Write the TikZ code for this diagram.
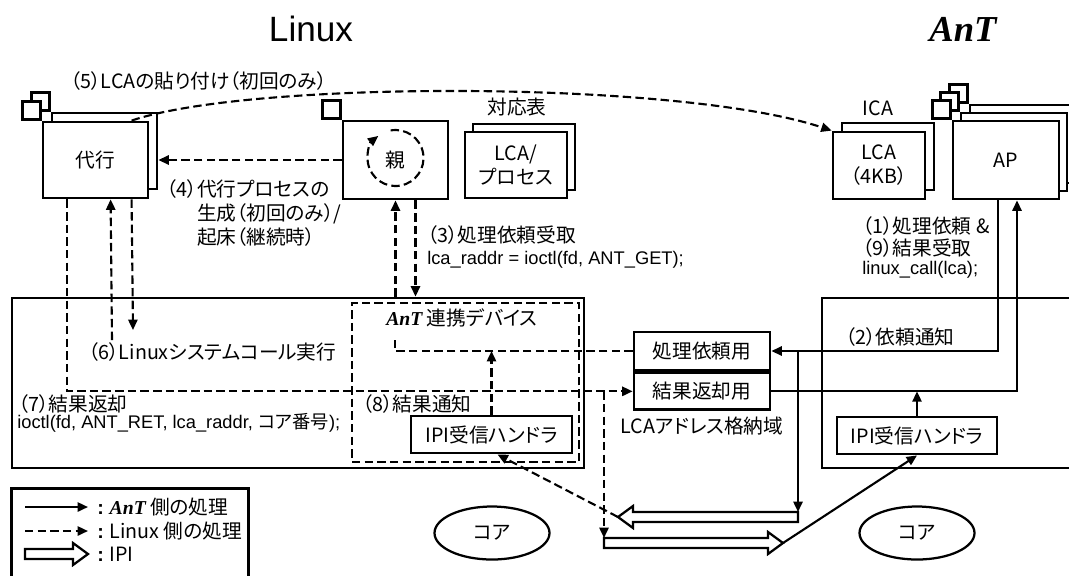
\documentclass[tikz,border=0pt]{standalone}
\usepackage{fontspec}
\setmainfont{Noto Sans CJK JP}[RawFeature=+palt]
\newfontfamily\latfont{Liberation Sans}
\newfontfamily\antfont{Liberation Serif}
\usetikzlibrary{arrows.meta,positioning,calc,shapes.geometric}
\newlength\pxu
\setlength\pxu{0.025cm}
\newcommand\AnT{{\antfont\bfseries\itshape AnT}}
\tikzset{
  box/.style={draw, line width=2pt, fill=white, align=center, inner sep=0pt},
  tab/.style={draw, line width=2pt, fill=white, minimum size=18\pxu, inner sep=0pt},
  area/.style={draw, line width=2pt, inner sep=0pt},
  devarea/.style={area, dash pattern=on 6pt off 3pt},
  core/.style={draw, ellipse, line width=1.6pt, minimum width=115\pxu, minimum height=53\pxu, inner sep=0pt},
  ant/.style={line width=1.5pt, -{Triangle[length=2.6mm,width=2.3mm]}},
  lnx/.style={ant, dash pattern=on 6pt off 3pt},
  lnxline/.style={line width=1.5pt, dash pattern=on 6pt off 3pt},
  ipi/.style={draw, line width=1.6pt, fill=white, line join=miter},
  lbl/.style={inner sep=0pt, anchor=west},
  code/.style={lbl, font=\latfont\fontsize{13}{15}\selectfont},
}
\begin{document}
\begin{tikzpicture}[x=0.025cm, y=-0.025cm, font=\fontsize{14}{17}\selectfont]
  \useasboundingbox (0,0) rectangle (1069,575);
  % titles
  \node[font=\latfont\fontsize{25}{30}\selectfont] (tLinux) at (311,29) {Linux};
  \node[font=\fontsize{26}{30}\selectfont] (tAnT) at (963,29) {\AnT};

  % kernel areas
  \node[area, minimum width=572\pxu, minimum height=170\pxu] (lk) at (298,383) {};
  \node[area, minimum width=258\pxu, minimum height=170\pxu] (ak) at (951,383) {};
  \node[devarea, minimum width=227\pxu, minimum height=159\pxu] (dev) at (465.5,382.5) {};
  \node[lbl] (devLbl) at (386,318) {\AnT\ 連携デバイス};

  % Linux processes
  \node[box, minimum width=105\pxu, minimum height=76\pxu] (dk2) at (104.5,151) {};
  \node[tab, anchor=south east] (dk2tab) at (dk2.north west) {};
  \node[box, minimum width=105\pxu, minimum height=76\pxu] (dk) at (95.5,160) {代行};
  \node[tab, anchor=south east] (dktab) at (dk.north west) {};
  \node[box, minimum width=105\pxu, minimum height=78\pxu] (oya) at (395.5,160) {親};
  \node[tab, anchor=south east] (oyatab) at (oya.north west) {};
  \node (tblLbl) at (517,107) {対応表};
  \node[box, minimum width=102\pxu, minimum height=66\pxu] (tbl2) at (524,157) {};
  \node[box, minimum width=102\pxu, minimum height=66\pxu] (tbl) at (516,165) {LCA/\\プロセス};

  % AnT side
  \node (icaLbl) at (878,108) {ICA};
  \node[box, minimum width=92\pxu, minimum height=67\pxu] (lca2) at (888,156.5) {};
  \node[box, minimum width=92\pxu, minimum height=67\pxu] (lca) at (879,165.5) {LCA\\（4KB）};
  \node[box, minimum width=106\pxu, minimum height=78\pxu] (ap3) at (1023,144) {};
  \node[tab, anchor=south east] (ap3tab) at (ap3.north west) {};
  \node[box, minimum width=106\pxu, minimum height=78\pxu] (ap2) at (1014,152) {};
  \node[tab, anchor=south east] (ap2tab) at (ap2.north west) {};
  \node[box, minimum width=106\pxu, minimum height=78\pxu] (ap) at (1006,160) {AP};
  \node[tab, anchor=south east] (aptab) at (ap.north west) {};

  % LCA address area, handlers, cores
  \node[box, minimum width=136\pxu, minimum height=38\pxu] (req) at (702,351) {処理依頼用};
  \node[box, minimum width=136\pxu, minimum height=37\pxu, below=0pt of req] (res) {結果返却用};
  \node (addrLbl) at (702,426) {LCAアドレス格納域};
  \node[box, minimum width=161\pxu, minimum height=37\pxu] (hL) at (491.5,434.5) {IPI受信ハンドラ};
  \node[box, minimum width=160\pxu, minimum height=37\pxu] (hR) at (917,435.5) {IPI受信ハンドラ};
  \node[core] (cL) at (492,533) {コア};
  \node[core] (cR) at (917,533) {コア};

  % IPI
  \coordinate (ipiAtip) at (618,517);
  \coordinate (ipiAtail) at (798,517);
  \coordinate (ipiBtail) at (604,543);
  \coordinate (ipiBtip) at (783,543);
  \draw[ipi] (ipiAtail) ++(0,-5) -- ++(-165,0) -- ++(0,-6) -- (ipiAtip) -- ++(15,11) -- ++(0,-6) -- ++(165,0) -- cycle;
  \draw[ipi] (ipiBtail) ++(0,-5) -- ++(164,0) -- ++(0,-6) -- (ipiBtip) -- ++(-15,11) -- ++(0,-6) -- ++(-164,0) -- cycle;

  % AnT side flow
  \coordinate (apOut) at ($(ap.south)+(-8,0)$);
  \coordinate (apIn) at ($(ap.south)+(11,0)$);
  \draw[ant] (apOut) |- (req.east);
  \draw[ant] (req.east -| ipiAtail) -- ($(ipiAtail)+(0,-5)$);
  \draw[ant] (res.east) -| (apIn);
  \draw[ant] (hR.north) -- (hR.north |- res.east);
  \draw[ant] (ipiBtip) -- (hR.south);

  % Linux side flow
  \coordinate (pasteFrom) at ($(dk.north west)+(90,0)$);
  \draw[lnx] (pasteFrom) .. controls (250,80) and (680,80) .. (lca.north west);
  \draw[lnx] (oya.west) -- (oya.west -| dk2.east);
  \draw[lnx] ([yshift=2\pxu]oya.center) ++(100:0.7cm) arc (100:-232:0.7cm);
  \coordinate (oyaOut) at ($(oya.south)+(20,0)$);
  \draw[lnx] (lk.north -| oya.south) -- (oya.south);
  \draw[lnx] (oyaOut) -- (oyaOut |- lk.north);
  \coordinate (dkOut) at ($(dk.south west)+(90,0)$);
  \coordinate (dkIn) at ($(dk.south west)+(69,0)$);
  \coordinate (dkRet) at ($(dk.south west)+(25,0)$);
  \coordinate (sysCall) at (133,330);
  \coordinate (sysRet) at (112,340);
  \draw[lnx] (dkOut) -- (sysCall);
  \draw[lnx] (sysRet) -- (dkIn);
  \draw[lnx] (dkRet) |- (res.west);
  \draw[lnx] (res.west -| ipiBtail) -- ($(ipiBtail)+(0,-5)$);
  \coordinate (devRef) at (395,337);
  \draw[lnxline] (req.west) -| (devRef);
  \draw[lnx] (hL.north) -- (hL.north |- req.west);
  \draw[lnx] (ipiAtip) -- ($(hL.south)+(6,0)$);

  % labels
  \node[lbl] (l5) at (70,81) {（5）LCAの貼り付け（初回のみ）};
  \node[lbl, align=left] (l4) at (197,213) {\llap{（4）}代行プロセスの\\生成（初回のみ）/\\起床（継続時）};
  \node[lbl] (l3) at (427,235) {（3）処理依頼受取};
  \node[code] (c3) at (427,260) {lca\_raddr = ioctl(fd, ANT\_GET);};
  \node[lbl] (l1) at (862,226) {（1）処理依頼 \&};
  \node[lbl] (l9) at (862,248) {（9）結果受取};
  \node[code] (c1) at (862,270) {linux\_call(lca);};
  \node[lbl] (l2) at (845,337) {（2）依頼通知};
  \node[lbl] (l6) at (88,352) {（6）Linuxシステムコール実行};
  \node[lbl] (l7) at (18,404) {（7）結果返却};
  \node[code] (c7) at (17,423) {ioctl(fd, ANT\_RET, lca\_raddr, {\normalfont コア番号});};
  \node[lbl] (l8) at (362,404) {（8）結果通知};

  % legend
  \node[area, anchor=north west, minimum width=237\pxu, minimum height=100\pxu] (leg) at (10,487) {};
  \coordinate (lgA) at (25,507);
  \coordinate (lgB) at (25,531);
  \coordinate (lgC) at (25,554);
  \draw[ant] (lgA) -- ++(63,0);
  \draw[lnx] (lgB) -- ++(63,0);
  \draw[ipi] (lgC) ++(0,-5) -- ++(48,0) -- ++(0,-6) -- ++(15,11) -- ++(-15,11) -- ++(0,-6) -- ++(-48,0) -- cycle;
  \node[lbl] (lgAt) at (97,507) {{\latfont\bfseries :} \AnT\ 側の処理};
  \node[lbl] (lgBt) at (97,531) {{\latfont\bfseries :} Linux 側の処理};
  \node[lbl] (lgCt) at (97,554) {{\latfont\bfseries :} IPI};
\end{tikzpicture}
\end{document}
